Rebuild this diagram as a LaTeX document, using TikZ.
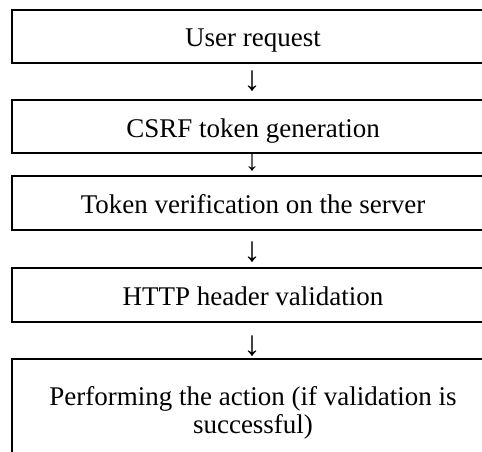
\documentclass[tikz,border=0pt]{standalone}
\usepackage{fontspec}
\setmainfont{Liberation Serif}
\begin{document}
\begin{tikzpicture}[x=1pt,y=-1pt,
  every node/.style={font=\fontsize{27}{28}\selectfont},
  stepbox/.style={draw=black, line width=1.8pt, minimum width=482pt, inner sep=0pt,
    align=center, text height=27pt, text depth=6pt},
  arrowglyph/.style={inner sep=0pt, font=\fontsize{35}{36}\selectfont}]
\useasboundingbox (0,0) rectangle (482,452);
\node[stepbox, minimum height=53pt] (b1) at (253,36.5) {User request};
\node[arrowglyph] (a1) at (252,81.5) {↓};
\node[stepbox, minimum height=53pt] (b2) at (253,126.5) {CSRF token generation};
\node[arrowglyph, font=\fontsize{29}{30}\selectfont] (a2) at (252,163) {↓};
\node[stepbox, minimum height=54pt] (b3) at (253,203) {Token verification on the server};
\node[arrowglyph] (a3) at (252,252) {↓};
\node[stepbox, minimum height=54pt] (b4) at (253,295) {HTTP header validation};
\node[arrowglyph] (a4) at (252,346.5) {↓};
\node[stepbox, minimum height=127pt] (b5) at (253,422.5) {Performing the action (if validation is\\successful)};
\end{tikzpicture}
\end{document}
